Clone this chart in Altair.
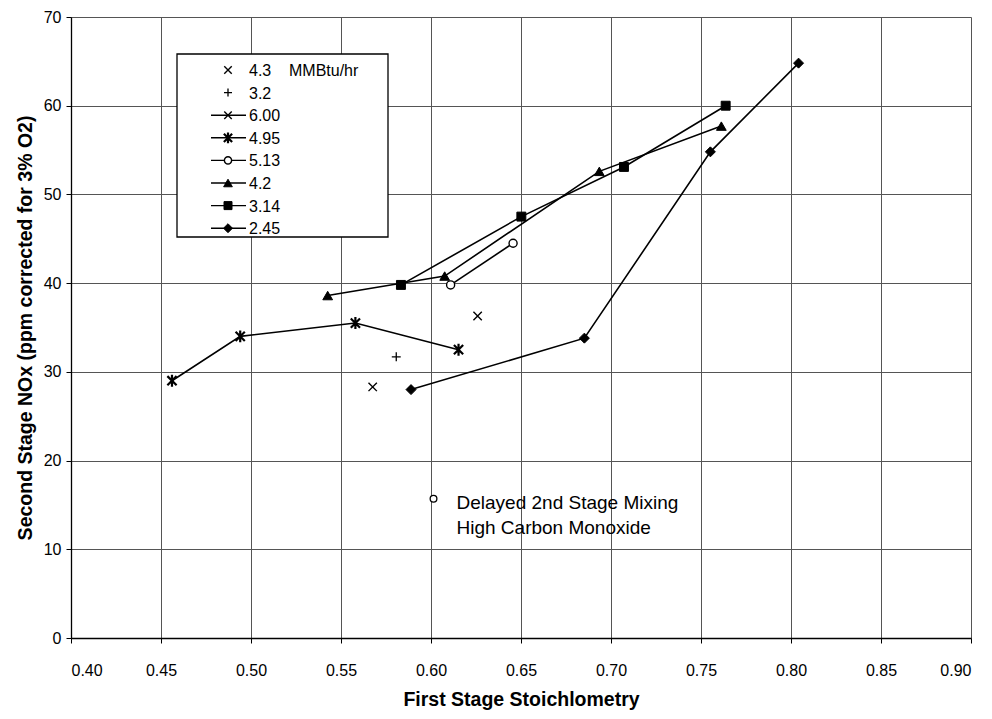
import altair as alt
import pandas as pd

# ---------------- data ----------------
s43_x = [0.5676]; s43_y = [28.3]
s32_x = [0.5807]; s32_y = [31.7]
s600_x = [0.6259]; s600_y = [36.3]
s495_x = [0.4561, 0.4940, 0.5580, 0.6153]; s495_y = [29.0, 34.0, 35.5, 32.5]
s513_x = [0.6109, 0.6456]; s513_y = [39.8, 44.5]
s42_x = [0.5426, 0.6076, 0.6935, 0.7613]; s42_y = [38.6, 40.8, 52.6, 57.7]
s314_x = [0.5833, 0.6502, 0.7072, 0.7637]; s314_y = [39.8, 47.5, 53.1, 60.0]
s245_x = [0.5889, 0.6852, 0.7552, 0.8042]; s245_y = [28.0, 33.8, 54.8, 64.8]

note_x = [0.6014]; note_y = [15.7]
note_text = ["Delayed 2nd Stage Mixing\nHigh Carbon Monoxide"]

legend_labels = ["4.3", "3.2", "6.00", "4.95", "5.13", "4.2", "3.14", "2.45"]
legend_unit = "MMBtu/hr"
x_ticks = [0.40, 0.45, 0.50, 0.55, 0.60, 0.65, 0.70, 0.75, 0.80, 0.85, 0.90]
y_ticks = [0, 10, 20, 30, 40, 50, 60, 70]

FONT = "Liberation Sans"
X_PATH = "M-1,-1L1,1M-1,1L1,-1"
PLUS_PATH = "M-1,0L1,0M0,-1L0,1"
AST_PATH = "M-1,-1L1,1M-1,1L1,-1M0,-1.3L0,1.3"

# style per series: (name, x, y, shape, fill, size, strokeWidth, has_line)
series = [
    ("4.3", s43_x, s43_y, X_PATH, None, 70, 1.4, False),
    ("3.2", s32_x, s32_y, PLUS_PATH, None, 80, 1.3, False),
    ("6.00", s600_x, s600_y, X_PATH, None, 70, 1.4, True),
    ("4.95", s495_x, s495_y, AST_PATH, None, 85, 2.2, True),
    ("5.13", s513_x, s513_y, "circle", "white", 65, 1.4, True),
    ("4.2", s42_x, s42_y, "triangle-up", "black", 95, 1, True),
    ("3.14", s314_x, s314_y, "square", "black", 80, 1, True),
    ("2.45", s245_x, s245_y, "diamond", "black", 100, 1, True),
]

xs = alt.Scale(domain=[0.4, 0.9], nice=False, zero=False)
ys = alt.Scale(domain=[0, 70], nice=False)
X = alt.X("x:Q", scale=xs, title="First Stage Stoichlometry",
          axis=alt.Axis(values=x_ticks, format=".2f"))
Y = alt.Y("y:Q", scale=ys, title="Second Stage NOx (ppm corrected for 3% O2)",
          axis=alt.Axis(values=y_ticks, format="d"))


def point_kw(shape, fill, size, sw):
    if fill is None:
        return dict(shape=shape, filled=False, stroke="black", strokeWidth=sw, size=size, opacity=1)
    return dict(shape=shape, filled=True, fill=fill, stroke="black", strokeWidth=sw, size=size, opacity=1)


layers = []
for name, sx, sy, shape, fill, size, sw, has_line in series:
    df = pd.DataFrame({"x": sx, "y": sy, "series": name})
    if has_line and len(sx) > 1:
        layers.append(alt.Chart(df).mark_line(color="black", strokeWidth=1.6).encode(x=X, y=Y, order="x:Q"))
for name, sx, sy, shape, fill, size, sw, has_line in series:
    df = pd.DataFrame({"x": sx, "y": sy, "series": name})
    layers.append(alt.Chart(df).mark_point(**point_kw(shape, fill, size, sw)).encode(x=X, y=Y))

# annotation
ndf = pd.DataFrame({"x": note_x, "y": note_y, "t": note_text})
layers.append(alt.Chart(ndf).mark_point(shape="circle", filled=True, fill="white", stroke="black",
                                         strokeWidth=1.3, size=45, opacity=1).encode(x=X, y=Y))
layers.append(alt.Chart(ndf).mark_text(align="left", baseline="middle", dx=23, dy=4, font=FONT,
                                        fontSize=19, lineBreak="\n", lineHeight=25, color="black")
              .encode(x=X, y=Y, text="t:N"))

# legend (layout in pixels, relative to the plot area)
box_l, box_r, box_t, box_b = 106, 317, 37, 220
row0, row_step = 53, 22.6
sym_x, line_l, line_r, text_x = 157, 140, 175, 178
one = pd.DataFrame({"k": [0]})
layers.append(alt.Chart(one).mark_rect(fill="white", stroke="black", strokeWidth=1.3).encode(
    x=alt.value(box_l), x2=alt.value(box_r), y=alt.value(box_t), y2=alt.value(box_b)))
for i, (name, sx, sy, shape, fill, size, sw, has_line) in enumerate(series):
    py = row0 + row_step * i
    if has_line:
        layers.append(alt.Chart(one).mark_rule(color="black", strokeWidth=1.4).encode(
            x=alt.value(line_l), x2=alt.value(line_r), y=alt.value(py)))
    layers.append(alt.Chart(one).mark_point(**point_kw(shape, fill, size * 0.8, sw)).encode(
        x=alt.value(sym_x), y=alt.value(py)))
    ldf = pd.DataFrame({"label": [legend_labels[i]]})
    layers.append(alt.Chart(ldf).mark_text(align="left", baseline="middle", font=FONT, fontSize=16,
                                            color="black").encode(
        x=alt.value(text_x), y=alt.value(py + 1), text="label:N"))
udf = pd.DataFrame({"label": [legend_unit]})
layers.append(alt.Chart(udf).mark_text(align="left", baseline="middle", font=FONT, fontSize=16,
                                        color="black").encode(
    x=alt.value(218), y=alt.value(row0 + 1), text="label:N"))

chart = alt.layer(*layers).properties(
    width=900, height=621,
    autosize=alt.AutoSizeParams(type="none"),
    padding={"left": 63, "top": 9, "right": 13, "bottom": 80},
).configure_view(stroke=None).configure_axis(
    labelFont=FONT, labelFontSize=16, labelColor="black",
    titleFont=FONT, titleFontSize=19.5, titleFontWeight="bold", titleColor="black",
    domainColor="black", domainWidth=1.3, tickColor="black", tickSize=5,
    gridColor="#555555", gridWidth=1, gridOpacity=1, grid=True,
).configure_axisX(labelPadding=19, titlePadding=12).configure_axisY(labelPadding=5, titlePadding=8)

chart.save("out.html", embed_options={"renderer": "svg", "actions": False})
